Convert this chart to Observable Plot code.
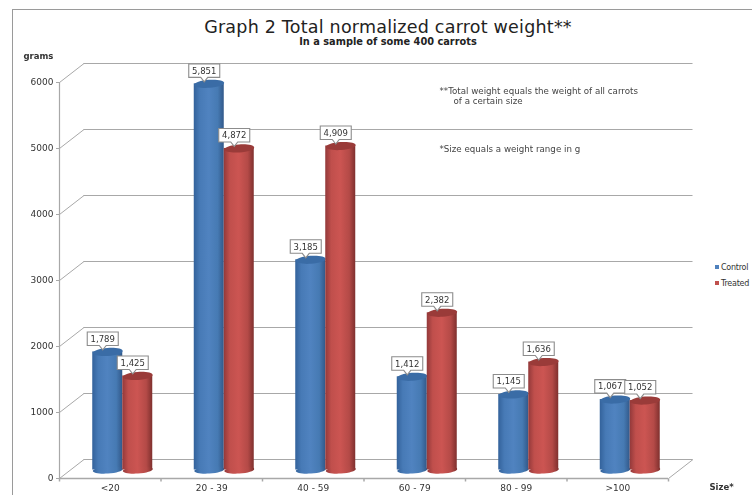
<!DOCTYPE html>
<html><head><meta charset="utf-8">
<script src="https://cdn.jsdelivr.net/npm/d3@7"></script>
<script src="https://cdn.jsdelivr.net/npm/@observablehq/plot@0.6"></script>
<style>
html,body{margin:0;padding:0;background:#fff;overflow:hidden;width:752px;height:495px}
#frame{position:absolute;left:12px;top:9px;width:800px;height:600px;border:1px solid #9a9a9a}
#head{position:relative;width:776px;height:50px;text-align:center;font-family:"DejaVu Sans",sans-serif;color:#222}
#head h1{margin:0;position:absolute;left:0;right:0;top:16px;font-size:17.5px;line-height:22px;font-weight:400;letter-spacing:.22px}
#head h2{margin:0;position:absolute;left:0;right:0;top:36px;font-size:9.8px;line-height:12px;font-weight:600}
#chart{position:absolute;left:0;top:50px}
#legend{position:absolute;left:715px;top:262px;font:8px "DejaVu Sans",sans-serif;letter-spacing:-.25px;color:#333;white-space:nowrap}
#legend div{height:16px;line-height:11px}
#legend i{display:inline-block;width:4px;height:4px;margin-right:2px;vertical-align:1px}
svg{filter:blur(.3px)}
</style></head><body>
<div id="frame"></div>
<div id="head"><h1>Graph 2 Total normalized carrot weight**</h1><h2>In a sample of some 400 carrots</h2></div>
<div id="chart"></div>
<div id="legend"><div><i style="background:#4f81bd"></i>Control</div><div><i style="background:#c0504d"></i>Treated</div></div>
<script>
const sizes = ["<20", "20 - 39", "40 - 59", "60 - 79", "80 - 99", ">100"];
const control = [1789, 5851, 3185, 1412, 1145, 1067];
const treated = [1425, 4872, 4909, 2382, 1636, 1052];
const yTicks = [0, 1000, 2000, 3000, 4000, 5000, 6000];
const xEdges = [0, 1, 2, 3, 4, 5, 6];
const font = "DejaVu Sans";

// 3-D projection of the floor, in data units
const catPx = 101.5, unitPx = 0.066;
const depthX = 24.5 / catPx, depthY = 19 / unitPx;
const barW = 30 / catPx;

const rows = sizes.map((s, i) => ({i, size: s, control: control[i], treated: treated[i]}));
const fmt = d3.format(",");

const ellipse = (rx, ry) => ({draw(c) {
  const k = 0.5523;
  c.moveTo(-rx, 0);
  c.bezierCurveTo(-rx, -ry * k, -rx * k, -ry, 0, -ry);
  c.bezierCurveTo(rx * k, -ry, rx, -ry * k, rx, 0);
  c.bezierCurveTo(rx, ry * k, rx * k, ry, 0, ry);
  c.bezierCurveTo(-rx * k, ry, -rx, ry * k, -rx, 0);
  c.closePath();
}});
const callout = {draw(c) {
  c.moveTo(0, 0);
  c.lineTo(-3.5, -4.5);
  c.lineTo(-15.5, -4.5);
  c.lineTo(-15.5, -18);
  c.lineTo(15.5, -18);
  c.lineTo(15.5, -4.5);
  c.lineTo(3.5, -4.5);
  c.closePath();
}};
const tickDown = {draw(c) { c.moveTo(0, 0); c.lineTo(0, 3); }};

function cylinder(key, off, grad, cap) {
  const cx = d => d.i + 0.5 + off * barW / 2;
  const opts = {dx: 12.5, dy: -8.5};
  return [
    Plot.rectY(rows, {x1: d => cx(d) - barW / 2, x2: d => cx(d) + barW / 2, y1: 0, y2: d => d[key], fill: `url(#${grad})`, ...opts}),
    Plot.dot(rows, {x: cx, y: 0, symbol: ellipse(15, 3.6), r: 1, rotate: -4, fill: `url(#${grad})`, ...opts}),
    Plot.dot(rows, {x: cx, y: d => d[key], symbol: ellipse(15, 4), r: 1, rotate: -4, fill: cap, ...opts})
  ];
}
function labels(key, off) {
  const cx = d => d.i + 0.5 + off * barW / 2;
  return [
    Plot.dot(rows, {x: cx, y: d => d[key], symbol: callout, r: 1, fill: "#fff", stroke: "#8c8c8c", strokeWidth: 1.1, dx: 7.5, dy: -10.5}),
    Plot.text(rows, {x: cx, y: d => d[key], text: d => fmt(d[key]), fontSize: 8.5, fill: "#333", fontFamily: font, dx: 7.5, dy: -21.5})
  ];
}
const note = (text, dx, dy, extra = {}) => Plot.text([text], {frameAnchor: "top-left", dx, dy, fontSize: 8.7, fill: "#444", textAnchor: "start", ...extra});

const plot = Plot.plot({
  width: 752, height: 445,
  marginLeft: 59, marginRight: 84, marginTop: 32, marginBottom: 17,
  x: {type: "linear", domain: [0, 6]},
  y: {domain: [0, 6000]},
  style: {fontFamily: font, background: "transparent", overflow: "visible"},
  marks: [
    // back wall and floor
    Plot.ruleY(yTicks, {x1: depthX, x2: 6 + depthX, y: d => d + depthY, stroke: "#a8a8a8", strokeWidth: 1.2}),
    Plot.link(yTicks, {x1: 0, x2: depthX, y1: d => d, y2: d => d + depthY, stroke: "#a8a8a8", strokeWidth: 1}),
    Plot.link([6], {x1: d => d, x2: d => d + depthX, y1: 0, y2: depthY, stroke: "#a8a8a8", strokeWidth: 1}),
    Plot.ruleX([0], {y1: 0, y2: 6000, stroke: "#a8a8a8", strokeWidth: 1.2}),
    Plot.ruleY([0], {x1: 0, x2: 6, stroke: "#a8a8a8", strokeWidth: 1.6}),
    Plot.dot(xEdges, {x: d => d, y: 0, symbol: tickDown, r: 1, stroke: "#a8a8a8"}),
    Plot.axisY(yTicks, {tickSize: 3, tickPadding: 3, stroke: "#a8a8a8", fill: "#333", fontSize: 9, tickFormat: d => String(d), label: null}),
    Plot.axisX(sizes.map((_, i) => i + 0.5), {tickSize: 0, tickPadding: 6, fill: "#333", fontSize: 9, tickFormat: d => sizes[d - 0.5], label: null}),
    ...cylinder("control", -1, "gBlue", "#3a6ca6"),
    ...cylinder("treated", 1, "gRed", "#9a3b39"),
    ...labels("control", -1),
    ...labels("treated", 1),
    note("grams", -36, -30, {fontWeight: 600, fontSize: 8.5, fill: "#333"}),
    Plot.text(["Size*"], {frameAnchor: "bottom-left", dx: 650, dy: 11, fontSize: 8.5, fontWeight: 600, fill: "#333", textAnchor: "start"}),
    note("**Total weight equals the weight of all carrots", 380, 5),
    note("of a certain size", 394, 15),
    note("*Size equals a weight range in g", 380, 63)
  ]
});

// cylinder shading
const defs = d3.select(plot).insert("defs", ":first-child");
function grad(id, stops) {
  const g = defs.append("linearGradient").attr("id", id).attr("x1", 0).attr("x2", 1).attr("y1", 0).attr("y2", 0);
  stops.forEach(([o, c]) => g.append("stop").attr("offset", o).attr("stop-color", c));
}
grad("gBlue", [[0, "#33629b"], [.2, "#477ab6"], [.5, "#5083c0"], [.8, "#467ab3"], [1, "#32598a"]]);
grad("gRed", [[0, "#93393a"], [.2, "#c04f4c"], [.5, "#cc5552"], [.8, "#b44a47"], [1, "#7f302e"]]);
document.getElementById("chart").append(plot);
</script>
</body></html>
